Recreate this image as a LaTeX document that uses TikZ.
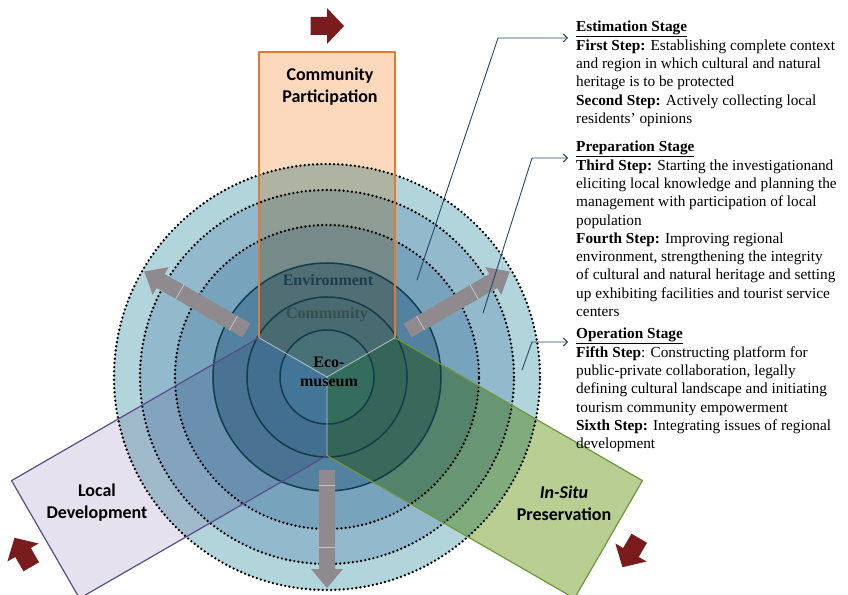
\documentclass[tikz,border=0pt]{standalone}
\usepackage{fontspec}
\setmainfont{Liberation Serif}
\newfontfamily\calib{Carlito}
\usetikzlibrary{arrows.meta}
\definecolor{ringA}{HTML}{B2D4DB}
\definecolor{ringB}{HTML}{92BACC}
\definecolor{ringC}{HTML}{77A3BC}
\definecolor{ringD}{HTML}{52829F}
\definecolor{ringE}{HTML}{4A7E9B}
\definecolor{ringF}{HTML}{4A86A3}
\definecolor{ringline}{HTML}{143C4C}
\definecolor{orfill}{HTML}{FBD2B0}
\definecolor{ordraw}{HTML}{E47A30}
\definecolor{pufill}{HTML}{E2DCEB}
\definecolor{pudraw}{HTML}{5A4C8A}
\definecolor{grfill}{HTML}{ABC67F}
\definecolor{grdraw}{HTML}{6E963A}
\definecolor{barcol}{HTML}{8E8A8D}
\definecolor{darkred}{HTML}{7A1B1E}
\definecolor{callcol}{HTML}{24466A}
\definecolor{envcol}{HTML}{173F52}
\definecolor{comcol}{HTML}{34504F}
\tikzset{
  dotring/.style={line width=2.6pt,dash pattern=on 0pt off 4.2pt,line cap=round},
  solidring/.style={ringline,line width=1.5pt},
  strip/.style={fill opacity=0.85,blend mode=multiply},
  tipline/.style={white,opacity=0.35,line width=0.8pt},
  sidelab/.style={font=\calib\bfseries\fontsize{18}{22}\selectfont,align=center},
  centlab/.style={font=\bfseries\fontsize{16}{19}\selectfont,align=center},
  stagetext/.style={font=\fontsize{15.3}{18.3}\selectfont,align=left,anchor=north west,inner xsep=8pt,inner ysep=0pt},
  callout/.style={callcol,line width=0.9pt,->},
  graybar/.style={fill=barcol},
  redarrow/.style={fill=darkred}
}
\begin{document}
\begin{tikzpicture}[line cap=round,line join=round,>={Straight Barb[length=4pt,width=8pt]},x=1pt,y=1pt]
\useasboundingbox (-327,-217) rectangle (521,377);
% rings
\fill[ringA] (0,0) circle (213);
\fill[ringB] (0,0) circle (187);
\fill[ringC] (0,0) circle (152);
\fill[ringD] (0,0) circle (114);
\fill[ringE] (0,0) circle (80);
\fill[ringF] (0,0) circle (47);
% strips
\fill[strip,orfill] (0,0) -- (-68,39.3) -- (-68,325) -- (68,325) -- (68,39.3) -- cycle;
\fill[strip,pufill,rotate=120] (0,0) -- (-68,39.3) -- (-68,325) -- (68,325) -- (68,39.3) -- cycle;
\fill[strip,grfill,rotate=240] (0,0) -- (-68,39.3) -- (-68,325) -- (68,325) -- (68,39.3) -- cycle;
% ring outlines
\draw[dotring] (0,0) circle (152);
\draw[dotring] (0,0) circle (187);
\draw[dotring] (0,0) circle (213);
\draw[solidring] (0,0) circle (47);
\draw[solidring] (0,0) circle (80);
\draw[solidring] (0,0) circle (114);
% strip borders
\draw[ordraw,line width=1.2pt] (-68,39.3) -- (-68,325) -- (68,325) -- (68,39.3);
\draw[pudraw,line width=1.2pt,rotate=120] (-68,39.3) -- (-68,325) -- (68,325) -- (68,39.3);
\draw[grdraw,line width=1.2pt,rotate=240] (-68,39.3) -- (-68,325) -- (68,325) -- (68,39.3);
\foreach \a in {0,120,240}
  \draw[tipline,rotate=\a] (-68,39.3) -- (0,0) -- (68,39.3);
% gray arrows
\foreach \a in {150,30,270}{
  \fill[graybar,rotate=\a] (93,-8) -- (192,-8) -- (192,-16) -- (211,0) -- (192,16) -- (192,8) -- (93,8) -- cycle;
  \draw[white,opacity=0.5,line width=0.8pt,rotate=\a] (108,-8) -- (108,8);
  \draw[white,opacity=0.5,line width=0.8pt,rotate=\a] (170,-8) -- (170,8);
}
% red arrows
\foreach \a in {0,120,240}
  \fill[redarrow,rotate=\a,shift={(0,351)}] (-16.5,-9) -- (0,-9) -- (0,-18) -- (17,0) -- (0,18) -- (0,9) -- (-16.5,9) -- cycle;
% labels
\node[sidelab] (cp) at (3,290) {Community\\Participation};
\node[sidelab] (ld) at (-230,-126) {Local\\Development};
\node[sidelab] (isp) at (237,-126) {\textit{In-Situ}\\Preservation};
\node[centlab,text=envcol] (env) at (1,97) {Environment};
\node[centlab,text=comcol] (com) at (0,62) {Community};
\node[centlab,text=black] (eco) at (2,5) {Eco-\\museum};
% stage texts
\node[stagetext] (est) at (241,356) {\underline{\textbf{Estimation Stage}}\\
\textbf{First Step:} Establishing complete context\\
and region in which cultural and natural\\
heritage is to be protected\\
\textbf{Second Step:} Actively collecting local\\
residents' opinions};
\node[stagetext] (prep) at (241,236) {\underline{\textbf{Preparation Stage}}\\
\textbf{Third Step:} Starting the investigationand\\
eliciting local knowledge and planning the\\
management with participation of local\\
population\\
\textbf{Fourth Step:} Improving regional\\
environment, strengthening the integrity\\
of cultural and natural heritage and setting\\
up exhibiting facilities and tourist service\\
centers};
\node[stagetext] (oper) at (241,49) {\underline{\textbf{Operation Stage}}\\
\textbf{Fifth Step}: Constructing platform for\\
public-private collaboration, legally\\
defining cultural landscape and initiating\\
tourism community empowerment\\
\textbf{Sixth Step:} Integrating issues of regional\\
development};
% callouts
\coordinate (s1) at (90,97);
\coordinate (b1) at (171,339);
\coordinate (s2) at (156,64);
\coordinate (b2) at (205,219);
\coordinate (s3) at (195,7);
\coordinate (b3) at (205,35);
\draw[callout] (s1) -- (b1) -- (b1 -| est.west);
\draw[callout] (s2) -- (b2) -- (b2 -| prep.west);
\draw[callout] (s3) -- (b3) -- (b3 -| oper.west);
\end{tikzpicture}
\end{document}
